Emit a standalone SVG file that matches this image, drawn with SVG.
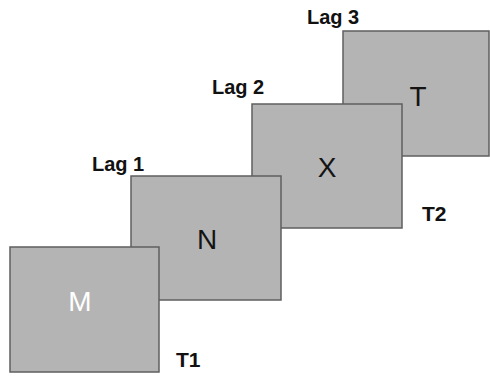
<svg xmlns="http://www.w3.org/2000/svg" width="490" height="376" viewBox="0 0 490 376">
  <style>
    .frame { fill: #b4b4b4; stroke: #5f5f5f; stroke-width: 1.5; }
    .glyph { font-family: "Liberation Sans", Arial, sans-serif; font-size: 28px; text-anchor: middle; fill: #141414; }
    .label { font-family: "Liberation Sans", Arial, sans-serif; font-size: 20px; font-weight: bold; fill: #111; }
    .target { font-size: 21px; }
  </style>
  <rect width="490" height="376" fill="#ffffff"/>

  <!-- frames stacked back to front -->
  <g id="frame-T">
    <rect class="frame" x="343" y="31" width="146" height="125"/>
    <text class="glyph" x="418" y="106">T</text>
  </g>
  <g id="frame-X">
    <rect class="frame" x="252" y="104" width="150" height="124"/>
    <text class="glyph" x="327" y="177">X</text>
  </g>
  <g id="frame-N">
    <rect class="frame" x="131" y="176" width="150" height="124"/>
    <text class="glyph" x="207" y="249">N</text>
  </g>
  <g id="frame-M">
    <rect class="frame" x="10" y="247" width="149" height="125"/>
    <text class="glyph" x="80" y="311" style="fill:#ffffff">M</text>
  </g>

  <!-- lag and target labels -->
  <g id="labels">
    <text class="label" x="92" y="171">Lag 1</text>
    <text class="label" x="212" y="94">Lag 2</text>
    <text class="label" x="307" y="24">Lag 3</text>
    <text class="label target" x="422" y="221">T2</text>
    <text class="label target" x="176" y="367">T1</text>
  </g>
</svg>
